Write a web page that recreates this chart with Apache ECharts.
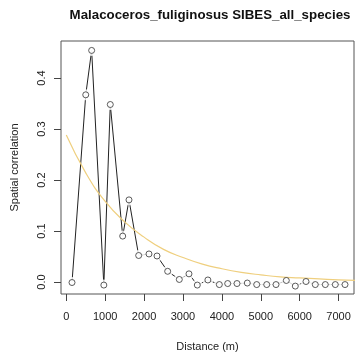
<!DOCTYPE html>
<html>
<head>
<meta charset="utf-8">
<script src="https://cdn.jsdelivr.net/npm/echarts@6.0.0/dist/echarts.min.js"></script>
<style>
html,body{margin:0;padding:0;background:#fff;}
#chart{width:355px;height:358px;}
</style>
</head>
<body>
<div id="chart"></div>
<script>
// Data
var titleText = "Malacoceros_fuliginosus SIBES_all_species";
var xAxisTitle = "Distance (m)";
var yAxisTitle = "Spatial correlation";

var distances = [147, 500, 652, 965, 1131, 1450, 1612, 1861, 2126, 2332, 2606, 2905, 3154, 3368, 3640, 3934, 4149, 4388, 4653, 4895, 5152, 5391, 5656, 5887, 6162, 6401, 6658, 6915, 7165];
var correlations = [-0.001, 0.367, 0.454, -0.006, 0.348, 0.090, 0.161, 0.052, 0.055, 0.051, 0.021, 0.005, 0.016, -0.006, 0.004, -0.005, -0.003, -0.003, -0.002, -0.005, -0.005, -0.005, 0.003, -0.008, 0.001, -0.005, -0.005, -0.005, -0.005];

// fitted curve
var curveDistances = [0, 500, 1000, 1500, 2000, 2500, 3000, 3500, 4000, 4500, 5000, 5500, 6000, 6500, 7000, 7500];
var curveValues = [0.288, 0.214, 0.158, 0.118, 0.088, 0.064, 0.048, 0.035, 0.026, 0.019, 0.014, 0.010, 0.008, 0.006, 0.004, 0.003];

var xTicks = [0, 1000, 2000, 3000, 4000, 5000, 6000, 7000];
var yTicks = [0, 0.1, 0.2, 0.3, 0.4];

var pts = distances.map(function (d, i) { return [d, correlations[i]]; });
var curve = curveDistances.map(function (d, i) { return [d, curveValues[i]]; });

var font = "'Liberation Sans', Arial, Helvetica, sans-serif";
var chart = echarts.init(document.getElementById('chart'), null, {renderer: 'canvas'});
chart.setOption({
  animation: false,
  backgroundColor: '#fff',
  title: {
    text: titleText,
    left: 205, top: 4, textAlign: 'center',
    textStyle: {fontFamily: font, fontSize: 13.3, fontWeight: 'bold', color: '#111'}
  },
  grid: {
    left: 61, right: 1, top: 41, bottom: 64,
    show: true, borderColor: '#555', borderWidth: 1, backgroundColor: 'transparent'
  },
  xAxis: {
    type: 'value', min: -136, max: 7396,
    splitLine: {show: false},
    axisLine: {show: false, onZero: false},
    axisTick: {show: true, inside: false, length: 7, customValues: xTicks, lineStyle: {color: '#444'}},
    axisLabel: {customValues: xTicks, margin: 17, fontFamily: font, fontSize: 11, color: '#222',
      formatter: function (v) { return String(v); }},
    name: xAxisTitle, nameLocation: 'middle', nameGap: 47,
    nameTextStyle: {fontFamily: font, fontSize: 11, color: '#222'}
  },
  yAxis: {
    type: 'value', min: -0.0235, max: 0.4725,
    splitLine: {show: false},
    axisLine: {show: false, onZero: false},
    axisTick: {show: true, inside: false, length: 7, customValues: yTicks, lineStyle: {color: '#444'}},
    axisLabel: {customValues: yTicks, rotate: 90, margin: 14, fontFamily: font, fontSize: 11, color: '#222',
      formatter: function (v) { return v.toFixed(1); }},
    name: yAxisTitle, nameLocation: 'middle', nameGap: 41, nameRotate: 90,
    nameTextStyle: {fontFamily: font, fontSize: 11, color: '#222'}
  },
  series: [
    {
      type: 'line', data: pts, showSymbol: false, z: 2,
      lineStyle: {color: '#222', width: 1}
    },
    {
      type: 'scatter', data: pts, symbol: 'circle', symbolSize: 11, z: 3,
      itemStyle: {color: '#fff', borderWidth: 0}, silent: true
    },
    {
      type: 'line', data: curve, smooth: true, showSymbol: false, z: 4,
      lineStyle: {color: '#efcf7e', width: 1.2}
    },
    {
      type: 'scatter', data: pts, symbol: 'circle', symbolSize: 6, z: 5,
      itemStyle: {color: '#fff', borderColor: '#333', borderWidth: 1}
    }
  ]
});
</script>
</body>
</html>
